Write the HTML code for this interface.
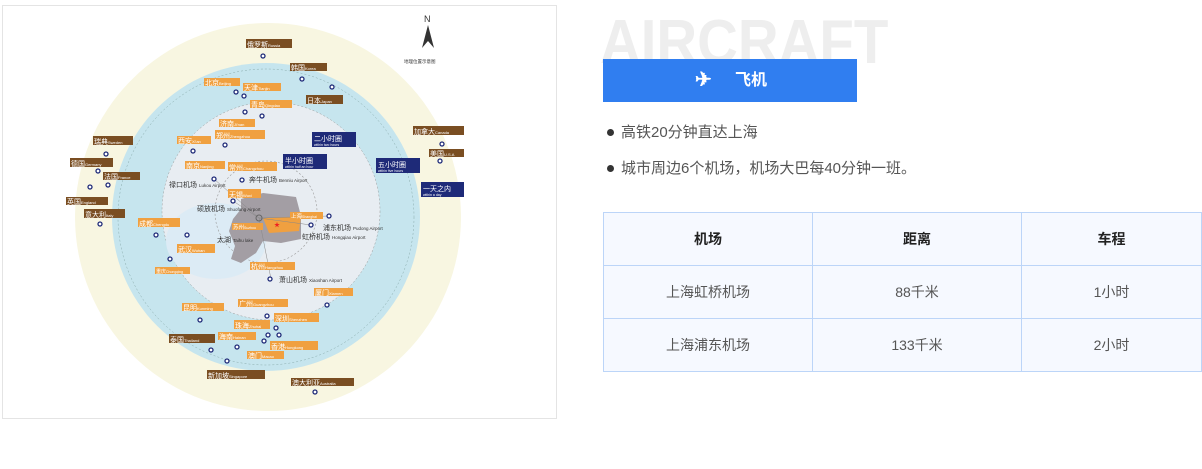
<!DOCTYPE html>
<html><head><meta charset="utf-8"><style>
*{margin:0;padding:0;box-sizing:border-box}
body{width:1202px;height:469px;background:#fff;position:relative;overflow:hidden;font-family:"Liberation Sans","Noto Sans CJK SC",sans-serif}
.map{position:absolute;left:2px;top:5px;width:555px;height:414px;border:1px solid #e4e4e4;background:#fff}
.big{position:absolute;left:600px;top:8px;font-size:62px;font-weight:bold;color:#eeeeee;line-height:70px;transform:scaleX(0.91);transform-origin:0 0}
.bar{position:absolute;left:603px;top:59px;width:254px;height:43px;background:#307ef0;color:#fff;font-weight:bold;font-size:16px;line-height:43px}
.li{position:absolute;left:621px;font-size:15px;color:#555}
.li:before{content:"";position:absolute;left:-14px;top:8px;width:7px;height:7px;border-radius:50%;background:#333}
table{position:absolute;left:603px;top:212px;width:599px;border-collapse:collapse}
td{border:1px solid #bcd5f8;background:#f6f9ff;height:53px;text-align:center;font-size:14px;color:#555}
tr:first-child td{font-weight:bold;color:#222}
</style></head><body>
<div class="map">
<svg width="555" height="414" viewBox="2 5 555 414" xmlns="http://www.w3.org/2000/svg" font-family="Liberation Sans, Noto Sans CJK SC, sans-serif">
<ellipse cx="267" cy="216" rx="193" ry="194" fill="#f8f6e1"/>
<circle cx="265" cy="216" r="154" fill="#c6e5ee"/>
<circle cx="265" cy="216" r="148" fill="none" stroke="#8aa" stroke-width="0.5" stroke-dasharray="2 2"/>
<circle cx="270" cy="210" r="109" fill="#e8edf2" stroke="#999" stroke-width="0.5" stroke-dasharray="2 2"/>
<ellipse cx="215" cy="240" rx="50" ry="38" fill="#dcebf5"/>
<circle cx="265" cy="211" r="51" fill="none" stroke="#999" stroke-width="0.6" stroke-dasharray="2 2"/>
<path d="M240 198 L262 192 L295 196 L300 215 L300 238 L280 242 L262 240 L255 252 L240 262 L230 258 L234 245 L228 230 L232 218 L240 208 Z" fill="#a39ea4"/>
<path d="M262 217 L300 216 L298 230 L268 232 Z" fill="#f0a040"/>
<text x="273" y="226" fill="#e22" font-size="6">★</text>
<g stroke="#888" stroke-width="0.5" fill="none"><line x1="258" y1="217" x2="328" y2="215"/><line x1="258" y1="217" x2="310" y2="224"/><line x1="258" y1="217" x2="270" y2="278"/><line x1="258" y1="217" x2="213" y2="178"/><line x1="258" y1="217" x2="232" y2="200"/></g>
<circle cx="258" cy="217" r="3" fill="none" stroke="#666"/>
<g font-size="4.5" fill="#333">
<text x="168" y="186" font-size="7">禄口机场 <tspan font-size="4.5">Lukou Airport</tspan></text>
<text x="248" y="181" font-size="7">奔牛机场 <tspan font-size="4.5">Benniu Airport</tspan></text>
<text x="196" y="210" font-size="7">硕放机场 <tspan font-size="4.5">Shuofang Airport</tspan></text>
<text x="322" y="229" font-size="7">浦东机场 <tspan font-size="4.5">Pudong Airport</tspan></text>
<text x="301" y="238" font-size="7">虹桥机场 <tspan font-size="4.5">Hongqiao Airport</tspan></text>
<text x="278" y="281" font-size="7">萧山机场 <tspan font-size="4.5">Xiaoshan Airport</tspan></text>
<text x="216" y="241" font-size="7">太湖 <tspan font-size="4.5">Taihu lake</tspan></text>
<text x="403" y="62">地理位置示意图</text>
</g>
<text x="423" y="21" font-size="9" fill="#333">N</text>
<path d="M427 24 L433 47 L427 40 L421 47 Z" fill="#333"/>
<g font-size="7" fill="#fff">
<g fill="#7a4e22">
<rect x="245" y="38" width="46" height="9"/><rect x="289" y="62" width="37" height="8"/><rect x="305" y="94" width="37" height="9"/>
<rect x="412" y="125" width="51" height="9"/><rect x="428" y="148" width="35" height="8"/><rect x="92" y="135" width="40" height="9"/>
<rect x="69" y="157" width="43" height="9"/><rect x="102" y="171" width="37" height="8"/><rect x="65" y="196" width="42" height="8"/>
<rect x="83" y="208" width="41" height="9"/><rect x="168" y="333" width="46" height="9"/><rect x="206" y="369" width="58" height="9"/><rect x="290" y="377" width="63" height="8"/>
</g>
<g fill="#f0a040">
<rect x="203" y="77" width="36" height="8"/><rect x="242" y="82" width="38" height="8"/><rect x="249" y="99" width="42" height="8"/>
<rect x="218" y="118" width="36" height="8"/><rect x="214" y="129" width="50" height="9"/><rect x="176" y="135" width="34" height="8"/>
<rect x="184" y="160" width="40" height="8"/><rect x="227" y="161" width="49" height="9"/><rect x="227" y="188" width="33" height="9"/>
<rect x="137" y="217" width="42" height="9"/><rect x="176" y="243" width="38" height="9"/><rect x="154" y="266" width="35" height="7"/>
<rect x="249" y="261" width="45" height="8"/><rect x="313" y="287" width="39" height="8"/><rect x="237" y="298" width="50" height="8"/>
<rect x="181" y="302" width="42" height="8"/><rect x="273" y="312" width="45" height="9"/><rect x="233" y="319" width="36" height="9"/>
<rect x="217" y="331" width="38" height="8"/><rect x="269" y="340" width="48" height="9"/><rect x="246" y="350" width="37" height="8"/>
<rect x="289" y="211" width="33" height="7"/><rect x="231" y="222" width="31" height="7"/>
</g>
<g fill="#1e2a78">
<rect x="311" y="131" width="44" height="15"/><rect x="282" y="153" width="44" height="15"/><rect x="375" y="157" width="44" height="15"/><rect x="420" y="181" width="43" height="15"/>
</g>
<g>
<text x="246" y="46">俄罗斯<tspan font-size="4">Russia</tspan></text><text x="290" y="69">韩国<tspan font-size="4">Korea</tspan></text><text x="306" y="102">日本<tspan font-size="4">Japan</tspan></text>
<text x="413" y="133">加拿大<tspan font-size="4">Canada</tspan></text><text x="429" y="155">美国<tspan font-size="4">U.S.A</tspan></text><text x="93" y="143">瑞典<tspan font-size="4">Sweden</tspan></text>
<text x="70" y="165">德国<tspan font-size="4">Germany</tspan></text><text x="103" y="178">法国<tspan font-size="4">France</tspan></text><text x="66" y="203">英国<tspan font-size="4">England</tspan></text>
<text x="84" y="216">意大利<tspan font-size="4">Italy</tspan></text><text x="169" y="341">泰国<tspan font-size="4">Thailand</tspan></text><text x="207" y="377">新加坡<tspan font-size="4">Singapore</tspan></text><text x="291" y="384">澳大利亚<tspan font-size="4">Australia</tspan></text>
<text x="204" y="84">北京<tspan font-size="4">Beijing</tspan></text><text x="243" y="89">天津<tspan font-size="4">Tianjin</tspan></text><text x="250" y="106">青岛<tspan font-size="4">Qingdao</tspan></text>
<text x="219" y="125">济南<tspan font-size="4">Ji'nan</tspan></text><text x="215" y="137">郑州<tspan font-size="4">Zhengzhou</tspan></text><text x="177" y="142">西安<tspan font-size="4">Xi'an</tspan></text>
<text x="185" y="167">南京<tspan font-size="4">Nanjing</tspan></text><text x="228" y="169">常州<tspan font-size="4">Changzhou</tspan></text><text x="228" y="196">无锡<tspan font-size="4">Wuxi</tspan></text>
<text x="138" y="225">成都<tspan font-size="4">Chengdu</tspan></text><text x="177" y="251">武汉<tspan font-size="4">Wuhan</tspan></text><text x="155" y="272" font-size="5">重庆<tspan font-size="3.5">Chongqing</tspan></text>
<text x="250" y="268">杭州<tspan font-size="4">Hangzhou</tspan></text><text x="314" y="294">厦门<tspan font-size="4">Xiamen</tspan></text><text x="238" y="305">广州<tspan font-size="4">Guangzhou</tspan></text>
<text x="182" y="309">昆明<tspan font-size="4">Kunming</tspan></text><text x="274" y="320">深圳<tspan font-size="4">Shenzhen</tspan></text><text x="234" y="327">珠海<tspan font-size="4">Zhuhai</tspan></text>
<text x="218" y="338">海南<tspan font-size="4">Hainan</tspan></text><text x="270" y="348">香港<tspan font-size="4">Hongkong</tspan></text><text x="247" y="357">澳门<tspan font-size="4">Macao</tspan></text>
<text x="290" y="217" font-size="5.5">上海<tspan font-size="3.5">Shanghai</tspan></text><text x="232" y="228" font-size="5.5">苏州<tspan font-size="3.5">Suzhou</tspan></text>
<text x="313" y="140">二小时圈</text><text x="284" y="162">半小时圈</text><text x="377" y="166">五小时圈</text><text x="422" y="190">一天之内</text>
<text x="313" y="145" font-size="3.5">within two hours</text><text x="284" y="167" font-size="3.5">within half an hour</text><text x="377" y="171" font-size="3.5">within five hours</text><text x="422" y="195" font-size="3.5">within a day</text>
</g>
</g>
<g fill="#fff" stroke="#1e2a78" stroke-width="1.3">
<circle cx="262" cy="55" r="2"/><circle cx="301" cy="78" r="2"/><circle cx="331" cy="86" r="2"/><circle cx="441" cy="143" r="2"/><circle cx="439" cy="160" r="2"/>
<circle cx="105" cy="153" r="2"/><circle cx="97" cy="170" r="2"/><circle cx="107" cy="184" r="2"/><circle cx="89" cy="186" r="2"/><circle cx="99" cy="223" r="2"/>
<circle cx="210" cy="349" r="2"/><circle cx="226" cy="360" r="2"/><circle cx="314" cy="391" r="2"/>
<circle cx="235" cy="91" r="2"/><circle cx="243" cy="95" r="2"/><circle cx="261" cy="115" r="2"/><circle cx="244" cy="111" r="2"/><circle cx="224" cy="144" r="2"/>
<circle cx="192" cy="150" r="2"/><circle cx="213" cy="178" r="2"/><circle cx="241" cy="179" r="2"/><circle cx="232" cy="200" r="2"/><circle cx="155" cy="234" r="2"/>
<circle cx="186" cy="234" r="2"/><circle cx="169" cy="258" r="2"/><circle cx="269" cy="278" r="2"/><circle cx="326" cy="304" r="2"/><circle cx="266" cy="315" r="2"/>
<circle cx="199" cy="319" r="2"/><circle cx="275" cy="327" r="2"/><circle cx="267" cy="334" r="2"/><circle cx="278" cy="334" r="2"/><circle cx="236" cy="346" r="2"/><circle cx="263" cy="340" r="2"/>
<circle cx="328" cy="215" r="2"/><circle cx="310" cy="224" r="2"/>
</g>
</svg>
</div>
<div class="big">AIRCRAFT</div>
<div class="bar"><span style="position:absolute;left:92px;font-size:20px">✈</span><span style="position:absolute;left:132px">飞机</span></div>
<div class="li" style="top:121px">高铁20分钟直达上海</div>
<div class="li" style="top:157px">城市周边6个机场，机场大巴每40分钟一班。</div>
<table>
<tr><td style="width:209px">机场</td><td style="width:209px">距离</td><td>车程</td></tr>
<tr><td>上海虹桥机场</td><td>88千米</td><td>1小时</td></tr>
<tr><td>上海浦东机场</td><td>133千米</td><td>2小时</td></tr>
</table>
</body></html>
